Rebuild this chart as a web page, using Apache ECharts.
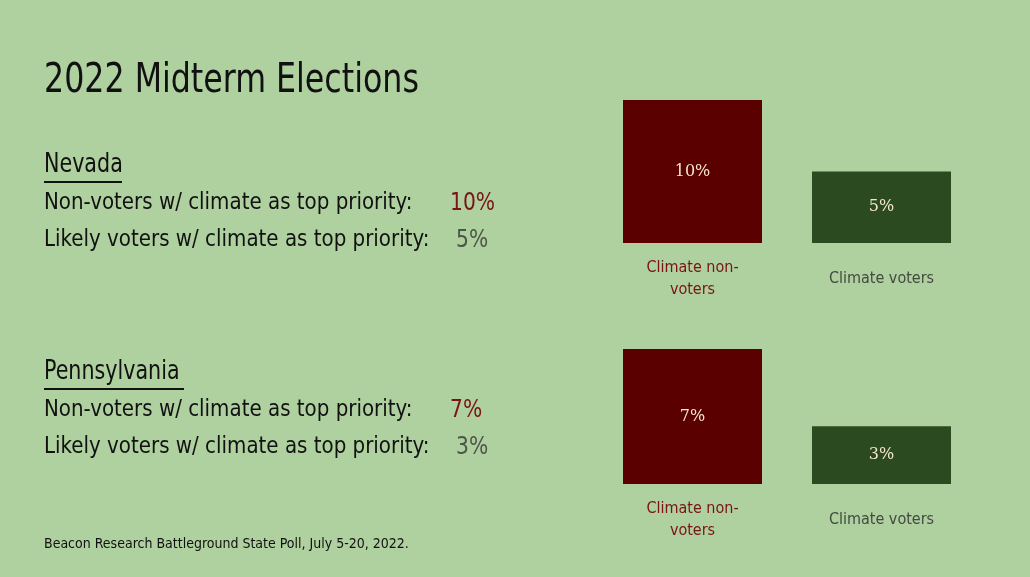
<!DOCTYPE html>
<html><head><meta charset="utf-8">
<script src="https://cdn.jsdelivr.net/npm/echarts@6/dist/echarts.min.js"></script>
<style>html,body{margin:0;padding:0;background:#afd09f}#c{width:1030px;height:577px}</style>
</head><body><div id="c"></div>
<script>
var categories = ["Climate non-\nvoters", "Climate voters"];
var nevadaValues = [10, 5];
var pennValues = [7, 3];
var states = ["Nevada", "Pennsylvania"];
var rowLabels = ["Non-voters w/ climate as top priority:", "Likely voters w/ climate as top priority:"];
var FONT = "'DejaVu Sans Condensed','Liberation Sans Narrow',sans-serif";
var barColors = ["#5a0000", "#2b4a1f"];
var labelColors = ["#7a1414", "#444a40"];

var chart = echarts.init(document.getElementById("c"));

function axisPair(idx) {
    return {
        x: {type: "category", gridIndex: idx, data: categories,
            axisLine: {show: false}, axisTick: {show: false},
            axisLabel: {margin: 36, verticalAlign: "middle", lineHeight: 22, fontFamily: FONT, fontSize: 16,
                color: function (v, i) { return labelColors[i]; }}},
        y: {type: "value", gridIndex: idx, min: 0, max: idx ? 7 : 10, show: false}
    };
}
var a0 = axisPair(0), a1 = axisPair(1);

function barSeries(idx, vals) {
    return {type: "bar", xAxisIndex: idx, yAxisIndex: idx, barWidth: 139,
        data: vals.map(function (v, i) { return {value: v, itemStyle: {color: barColors[i]}}; }),
        label: {show: true, position: "inside", formatter: "{c}%", color: "#f3e6cc",
            fontFamily: "'DejaVu Serif',serif", fontSize: 16}};
}

var texts = [];
function addText(x, y, t, size, color, sx) {
    texts.push({type: "text", x: x, y: y, scaleX: sx || 1, style: {text: t, fontFamily: FONT, fontSize: size, fill: color || "#111"}});
}
addText(44, 62, "2022 Midterm Elections", 40, null, 0.88);
var blocks = [{y: 150, vals: nevadaValues}, {y: 357, vals: pennValues}];
blocks.forEach(function (b, k) {
    addText(44, b.y + 1, states[k], 27, null, 0.85);
    texts.push({type: "rect", shape: {x: 44, y: b.y + 31, width: k ? 140 : 78, height: 2}, style: {fill: "#111"}});
    addText(44, b.y + 42, rowLabels[0], 23, null, 0.96);
    addText(44, b.y + 79, rowLabels[1], 23, null, 0.96);
    addText(450, b.y + 41, b.vals[0] + "%", 25, "#7a1414", 0.9);
    addText(456, b.y + 78, b.vals[1] + "%", 25, "#4d5548", 0.9);
});
addText(44, 537, "Beacon Research Battleground State Poll, July 5-20, 2022.", 14);

chart.setOption({
    backgroundColor: "#afd09f",
    grid: [{left: 598, right: 54, top: 100, height: 143}, {left: 598, right: 54, top: 349, height: 135}],
    xAxis: [a0.x, a1.x],
    yAxis: [a0.y, a1.y],
    series: [barSeries(0, nevadaValues), barSeries(1, pennValues)],
    graphic: texts
});
</script></body></html>
